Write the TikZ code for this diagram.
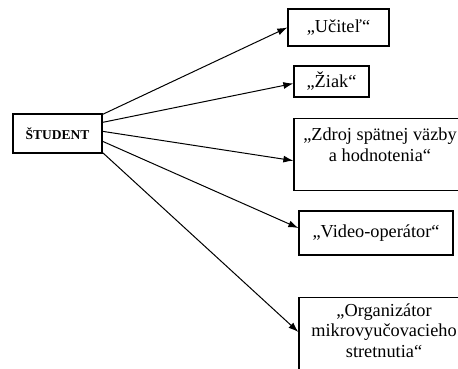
\documentclass[tikz,border=0pt]{standalone}
\usepackage{fontspec}
\setmainfont{Liberation Serif}
\usetikzlibrary{arrows.meta, positioning}

\tikzset{
  rolebox/.style={draw, line width=1.3pt, align=center, inner sep=0pt, font=\fontsize{18.3}{20.3}\selectfont},
  link/.style={-{Latex[length=10pt,width=7pt]}, line width=1pt},
}

\begin{document}
\begin{tikzpicture}[x=1pt, y=-1pt]
\useasboundingbox (0,0) rectangle (458,369);
\clip (0,0) rectangle (458,369);

% LEFT: the student
\node[draw, line width=1.3pt, minimum width=89pt, minimum height=39pt, inner sep=0pt, font=\fontsize{13.5}{16}\selectfont\bfseries] (student) at (57.5,133.5) {ŠTUDENT};

% RIGHT: the roles, partly cut off at the page edge
\node[rolebox, minimum width=101pt, minimum height=37pt] (ucitel) at (338.5,27.5) {„Učiteľ“};
\node[rolebox, minimum width=75pt, minimum height=31pt] (ziak) at (331.5,81.5) {„Žiak“};
\node[rolebox, minimum width=172pt, minimum height=72pt, anchor=north] (zdroj) at (380,118) {„Zdroj spätnej väzby\\a hodnotenia“\\\mbox{}};
\node[rolebox, minimum width=154pt, minimum height=44pt] (video) at (376,233) {„Video-operátor“};
\node[rolebox, minimum width=170pt, minimum height=86pt, anchor=north] (organizator) at (384,297) {„Organizátor\\mikrovyučovacieho\\stretnutia“\\\mbox{}};

% start points on the right side of the student box
\coordinate (s1) at ([yshift=-1pt]student.north east);
\coordinate (s2) at ([yshift=-9pt]student.north east);
\coordinate (s3) at ([yshift=-18pt]student.north east);
\coordinate (s4) at ([yshift=-28pt]student.north east);
\coordinate (s5) at ([yshift=1pt]student.south east);

% end points on the left side of each role
\coordinate (e1) at (ucitel.west);
\coordinate (e2) at ([yshift=-2pt]ziak.west);
\coordinate (e3) at ([yshift=-6pt]zdroj.west);
\coordinate (e4) at ([yshift=5pt]video.west);
\coordinate (e5) at ([yshift=-35pt]organizator.north west);

\foreach \i in {1,...,5}{
  \draw[link] (s\i) -- (e\i);
}
\end{tikzpicture}
\end{document}
